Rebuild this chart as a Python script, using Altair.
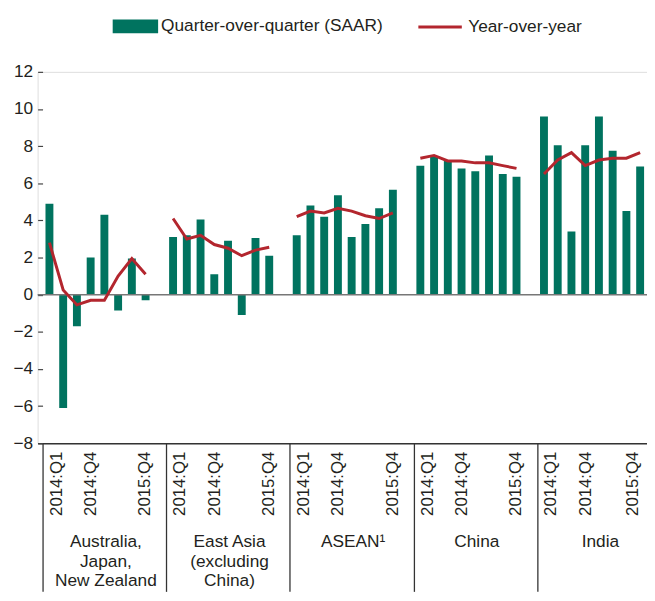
import json
import altair as alt
import pandas as pd

# ---------------- data ----------------
region_lines = [
    ["Australia,", "Japan,", "New Zealand"],
    ["East Asia", "(excluding", "China)"],
    ["ASEAN\u00b9"],
    ["China"],
    ["India"],
]
quarters = ["2014:Q1", "2014:Q2", "2014:Q3", "2014:Q4",
            "2015:Q1", "2015:Q2", "2015:Q3", "2015:Q4"]
labelled_quarters = [0, 3, 7]

qoq_ajnz = [4.9, -6.1, -1.7, 2.0, 4.3, -0.85, 1.95, -0.3]
yoy_ajnz = [2.8, 0.25, -0.55, -0.3, -0.3, 1.0, 1.95, 1.1]
qoq_east_asia = [3.1, 3.2, 4.05, 1.1, 2.9, -1.1, 3.05, 2.1]
yoy_east_asia = [4.1, 3.0, 3.2, 2.7, 2.5, 2.1, 2.4, 2.55]
qoq_asean = [3.2, 4.8, 4.2, 5.35, 3.1, 3.8, 4.65, 5.65]
yoy_asean = [4.2, 4.5, 4.4, 4.65, 4.5, 4.25, 4.1, 4.4]
qoq_china = [6.95, 7.45, 7.2, 6.8, 6.65, 7.5, 6.5, 6.35]
yoy_china = [7.35, 7.5, 7.2, 7.2, 7.1, 7.1, 6.95, 6.8]
qoq_india = [9.6, 8.05, 3.4, 8.05, 9.6, 7.75, 4.5, 6.9]
yoy_india = [6.5, 7.25, 7.65, 6.95, 7.25, 7.35, 7.35, 7.65]

qoq_all = [qoq_ajnz, qoq_east_asia, qoq_asean, qoq_china, qoq_india]
yoy_all = [yoy_ajnz, yoy_east_asia, yoy_asean, yoy_china, yoy_india]

QOQ = "Quarter-over-quarter (SAAR)"
YOY = "Year-over-year"
GREEN = "#00735f"
RED = "#b3262e"
TEXT = "#231f20"
FONT = "'Liberation Sans', Arial, sans-serif"

SLOTS = 9  # 8 quarters + one empty slot per region

rows = []
for g in range(len(region_lines)):
    for i, q in enumerate(quarters):
        rows.append({
            "region": " ".join(region_lines[g]),
            "quarter": q,
            "pos": g * SLOTS + i + 0.5,
            "qoq": qoq_all[g][i],
            "yoy": yoy_all[g][i],
            "s_q": QOQ,
            "s_y": YOY,
        })
df = pd.DataFrame(rows)
zero_df = pd.DataFrame({"zero": [0]})

# ---------------- axes ----------------
x_scale = alt.Scale(domain=[0, 43.64], nice=False, zero=False)
y_scale = alt.Scale(domain=[-8, 12], nice=False, zero=False)

y_axis = alt.Axis(
    values=list(range(-8, 13, 2)), title=None, domain=False, grid=False,
    tickSize=5, offset=-5, tickColor="#444444", tickWidth=1.2,
    labelPadding=5, labelFontSize=17.5, labelColor=TEXT, labelFont=FONT,
    labelExpr="datum.value < 0 ? '\u2212' + format(-datum.value, 'd') : format(datum.value, 'd')",
)

# quarter tick labels (rotated)
q_offsets = [1.0, 3.5, 7.45]
q_values = []
for g in range(len(region_lines)):
    for k, off in enumerate(q_offsets):
        if g == len(region_lines) - 1 and k == 2:
            off = 6.93
        q_values.append(round(g * SLOTS + off, 2))
q_expr = ("(datum.value % 9) < 2 ? '{a}' : (datum.value % 9) < 5 ? '{b}' : '{c}'"
          .format(a=quarters[labelled_quarters[0]],
                  b=quarters[labelled_quarters[1]],
                  c=quarters[labelled_quarters[2]]))
quarter_axis = alt.Axis(
    orient="bottom", values=q_values, labelExpr=q_expr, labelAngle=-90,
    ticks=False, domain=True, domainColor="#333333", domainWidth=1.5,
    labelPadding=8, labelFontSize=17, labelColor=TEXT, labelFont=FONT,
    labelFlush=False, labelOverlap=False, grid=False, title=None,
)

# region separators + region names
g_values = [g * SLOTS for g in range(len(region_lines))]
g_expr = ""
for g, lines in enumerate(region_lines):
    g_expr += "datum.value == {} ? {} : ".format(g * SLOTS, json.dumps(lines, ensure_ascii=False))
g_expr += "''"
region_axis = alt.Axis(
    orient="bottom", values=g_values, labelExpr=g_expr,
    ticks=True, tickSize=150, tickColor="#333333", tickWidth=1.3,
    domain=False, labelOffset=63.6, labelPadding=-59, labelLineHeight=19.5,
    labelFontSize=17.5, labelColor=TEXT, labelFont=FONT,
    labelAlign="center", labelBaseline="top",
    labelFlush=False, labelOverlap=False, grid=False, title=None,
)

# ---------------- layers ----------------
bars = alt.Chart(df).mark_bar(width=8, clip=True).encode(
    x=alt.X("pos:Q", scale=x_scale, axis=quarter_axis),
    y=alt.Y("qoq:Q", scale=y_scale, axis=y_axis),
    color=alt.Color(
        "s_q:N", scale=alt.Scale(domain=[QOQ], range=[GREEN]),
        legend=alt.Legend(
            title=None, orient="none", legendX=76, legendY=-69,
            symbolType="M-1,-0.3H1V0.3H-1Z", symbolSize=2116,
            symbolStrokeWidth=0, labelFontSize=17.5, labelOffset=3,
            labelLimit=0, labelColor=TEXT, labelFont=FONT, padding=0,
        ),
    ),
)

zero_rule = alt.Chart(zero_df).mark_rule(color="#777777", strokeWidth=1.5).encode(
    y=alt.Y("zero:Q", scale=y_scale, axis=y_axis),
)

line = alt.Chart(df).mark_line(strokeWidth=3, clip=True).encode(
    x=alt.X("pos:Q", scale=x_scale, axis=region_axis),
    y=alt.Y("yoy:Q", scale=y_scale, axis=y_axis),
    detail="region:N",
    color=alt.Color(
        "s_y:N", scale=alt.Scale(domain=[YOY], range=[RED]),
        legend=alt.Legend(
            title=None, orient="none", legendX=384, legendY=-69,
            symbolType="M-1,0H1", symbolSize=1936, symbolStrokeWidth=3,
            labelFontSize=17.5, labelOffset=5, labelLimit=0,
            labelColor=TEXT, labelFont=FONT, padding=0,
        ),
    ),
)

chart = (
    alt.layer(bars, zero_rule, line)
    .resolve_scale(color="independent")
    .resolve_axis(x="independent")
    .properties(width=617, height=376, background="white",
                autosize=alt.AutoSizeParams(type="none"),
                padding={"left": 30, "top": 61, "right": 0, "bottom": 148})
    .configure_view(stroke=None)
    .configure(font=FONT)
)

chart.save("out.html", embed_options={"renderer": "svg", "actions": False})
